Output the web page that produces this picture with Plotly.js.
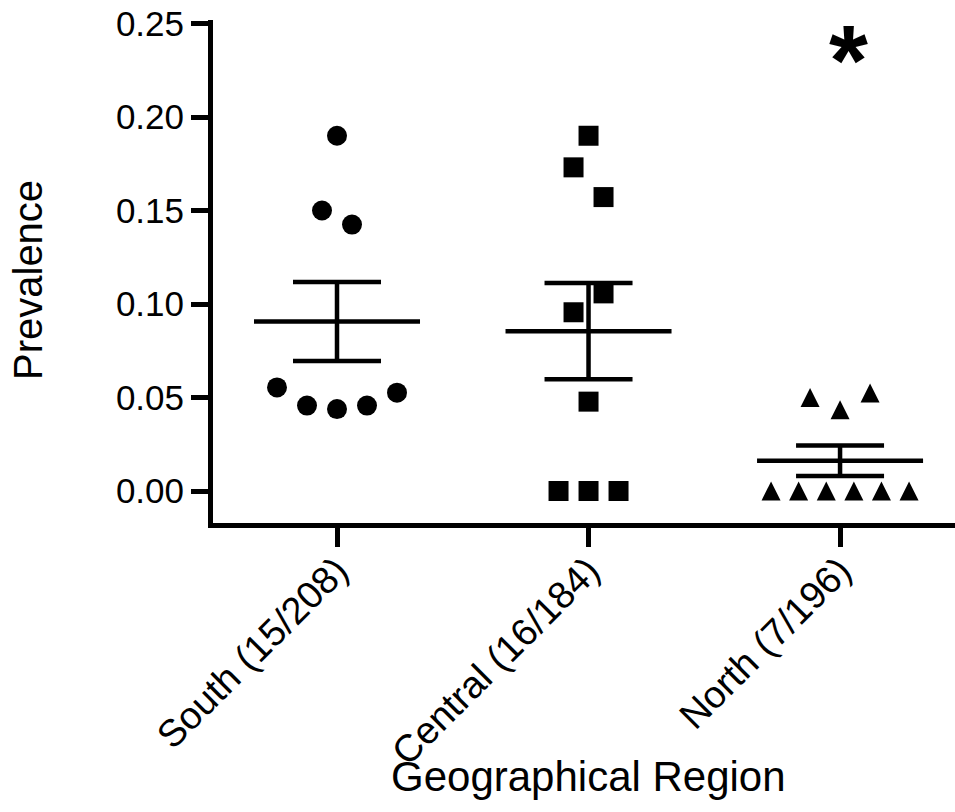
<!DOCTYPE html>
<html><head><meta charset="utf-8">
<script src="https://cdn.plot.ly/plotly-3.0.1.min.js"></script>
<style>html,body{margin:0;padding:0;background:#fff;}#chart{width:955px;height:812px;}</style>
</head><body><div id="chart"></div>
<script>
// ---- data ----
const categories = ['South (15/208)', 'Central (16/184)', 'North (7/196)'];
const southValues = [0.190, 0.150, 0.1425, 0.0554, 0.0457, 0.0438, 0.0457, 0.0526];
const centralValues = [0.190, 0.1731, 0.1572, 0.0956, 0.1057, 0.0478, 0, 0, 0];
const northValues = [0.0500, 0.0434, 0.0524, 0, 0, 0, 0, 0, 0];
const yTickValues = [0, 0.05, 0.10, 0.15, 0.20, 0.25];
const yAxisTitle = 'Prevalence';
const xAxisTitle = 'Geographical Region';
const significanceMark = '*';
const significantGroup = 2;

// ---- layout geometry ----
const W = 955, H = 812;
const margin = {l: 213, r: 0, t: 20, b: 289, pad: 0};
const xRange = [-0.493, 2.457];
const yRange = [-0.0171, 0.2519];
const plotW = W - margin.l - margin.r;
const plotH = H - margin.t - margin.b;
const pxPerX = plotW / (xRange[1] - xRange[0]);
const pxPerY = plotH / (yRange[1] - yRange[0]);
const FONT = 'Liberation Sans, Arial, Helvetica, sans-serif';
const INK = '#000000';

// GraphPad-like column scatter: values that lie close together form a row,
// and the points of a row are spread evenly around the category centre.
function swarmOffsets(values, stepPx, maxSpanPx, linkPx) {
  const idx = values.map((v, i) => i).sort((a, b) => values[b] - values[a]);
  const rows = [];
  let cur = [idx[0]];
  for (let k = 1; k < idx.length; k++) {
    const gap = (values[idx[k - 1]] - values[idx[k]]) * pxPerY;
    if (gap <= linkPx) cur.push(idx[k]); else { rows.push(cur); cur = [idx[k]]; }
  }
  rows.push(cur);
  const off = new Array(values.length).fill(0);
  rows.forEach(r => {
    r.sort((a, b) => a - b);
    const n = r.length;
    const step = n > 1 ? Math.min(stepPx, maxSpanPx / (n - 1)) : 0;
    r.forEach((i, j) => { off[i] = (j - (n - 1) / 2) * step / pxPerX; });
  });
  return off;
}
function mean(a) { return a.reduce((s, v) => s + v, 0) / a.length; }
function sem(a) {
  const m = mean(a);
  const v = a.reduce((s, x) => s + (x - m) * (x - m), 0) / (a.length - 1);
  return Math.sqrt(v) / Math.sqrt(a.length);
}

const groups = [southValues, centralValues, northValues];
const symbols = [
  {symbol: 'circle', size: 20},
  {symbol: 'square', size: 20},
  {symbol: 'arrow-down', size: 19, angle: 180, standoff: 9.5}
];

const traces = [];
groups.forEach((vals, g) => {
  const off = swarmOffsets(vals, 30, 138, 30.5);
  const s = symbols[g];
  const marker = {symbol: s.symbol, size: s.size, color: INK, line: {width: 0}};
  if (s.angle !== undefined) { marker.angle = s.angle; marker.standoff = s.standoff; }
  traces.push({
    type: 'scatter', mode: 'markers',
    x: vals.map((v, i) => g + off[i]), y: vals,
    marker: marker, showlegend: false, hoverinfo: 'y', cliponaxis: false
  });
  const m = mean(vals), e = sem(vals);
  // mean line
  traces.push({
    type: 'scatter', mode: 'lines',
    x: [g - 0.33, g + 0.33], y: [m, m],
    line: {color: INK, width: 4.5}, showlegend: false, hoverinfo: 'skip'
  });
  // SEM bar
  traces.push({
    type: 'scatter', mode: 'markers',
    x: [g], y: [m], marker: {size: 1, opacity: 0},
    error_y: {type: 'data', array: [e], visible: true, color: INK, thickness: 4.5, width: 44},
    showlegend: false, hoverinfo: 'skip'
  });
});

const layout = {
  width: W, height: H, margin: margin,
  paper_bgcolor: '#ffffff', plot_bgcolor: '#ffffff',
  font: {family: FONT, color: INK, size: 35},
  showlegend: false,
  xaxis: {
    range: xRange, tickmode: 'array', tickvals: categories.map((c, i) => i), ticktext: categories,
    tickangle: -45, tickfont: {family: FONT, size: 38, color: INK},
    ticklabelstandoff: -14,
    showline: true, linecolor: INK, linewidth: 5,
    ticks: 'outside', ticklen: 19, tickwidth: 5, tickcolor: INK,
    showgrid: false, zeroline: false, fixedrange: true
  },
  yaxis: {
    range: yRange, tickmode: 'array', tickvals: yTickValues,
    ticktext: yTickValues.map(v => v.toFixed(2)),
    tickfont: {family: FONT, size: 35, color: INK},
    showline: true, linecolor: INK, linewidth: 5,
    ticks: 'outside', ticklen: 17, tickwidth: 5, tickcolor: INK,
    showgrid: false, zeroline: false, fixedrange: true
  },
  annotations: [
    {text: yAxisTitle, xref: 'paper', yref: 'paper', x: 0, y: 0, xshift: -185, yshift: 243,
     textangle: -90, xanchor: 'center', yanchor: 'middle', showarrow: false,
     font: {family: FONT, size: 40, color: INK}},
    {text: xAxisTitle, xref: 'x', yref: 'paper', x: 1, y: 0, yshift: -253,
     xanchor: 'center', yanchor: 'middle', showarrow: false,
     font: {family: FONT, size: 42, color: INK}},
    {text: '<b>' + significanceMark + '</b>', xref: 'x', yref: 'paper', x: significantGroup, y: 1,
     xshift: 8, yshift: -40, xanchor: 'center', yanchor: 'middle', showarrow: false,
     font: {family: FONT, size: 100, color: INK}}
  ]
};

Plotly.newPlot('chart', traces, layout, {staticPlot: true, displayModeBar: false});
</script>
</body></html>
